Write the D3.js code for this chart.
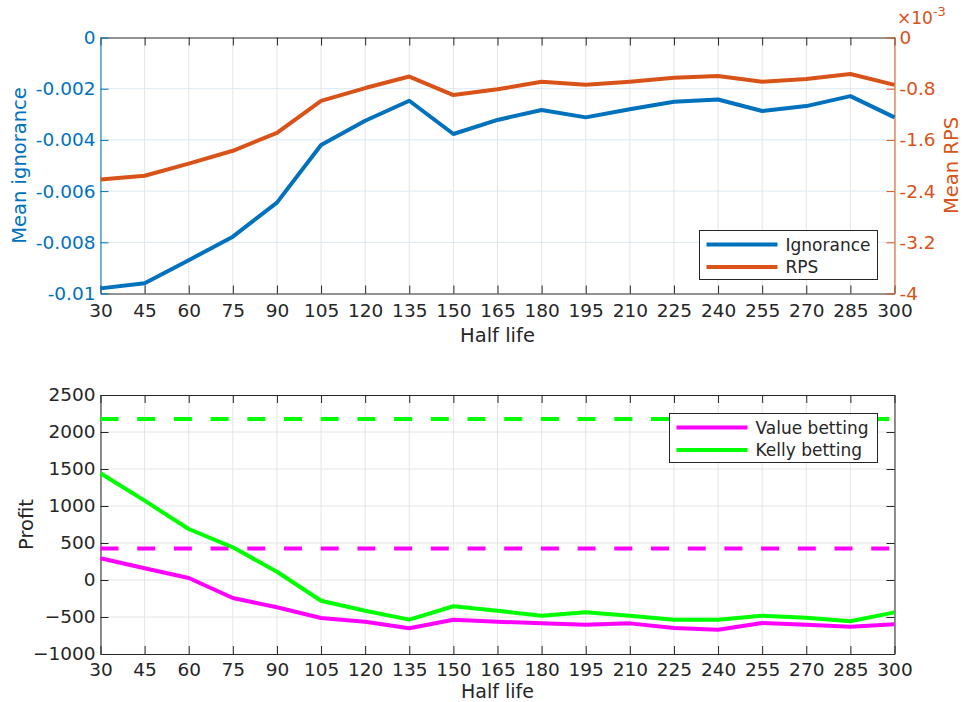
<!DOCTYPE html>
<html><head><meta charset="utf-8">
<script src="https://cdn.jsdelivr.net/npm/d3@7"></script>
<style>body{margin:0;background:#fff}svg{display:block}text{font-family:"DejaVu Sans",sans-serif}</style>
</head><body><svg id="c" width="963" height="702"></svg>
<script>
const halfLife = [30,45,60,75,90,105,120,135,150,165,180,195,210,225,240,255,270,285,300];
const ignorance = [-0.0098,-0.0096,-0.0087,-0.00778,-0.00645,-0.0042,-0.00325,-0.00247,-0.00377,-0.00322,-0.00283,-0.00312,-0.0028,-0.00251,-0.00242,-0.00287,-0.00268,-0.00229,-0.00312];
const rps = [-2.22,-2.16,-1.97,-1.77,-1.49,-0.99,-0.79,-0.61,-0.90,-0.81,-0.69,-0.74,-0.69,-0.63,-0.60,-0.69,-0.65,-0.57,-0.74]; // x10^-3
const valueBetting = [293,158,27,-243,-369,-514,-563,-653,-536,-563,-586,-604,-586,-649,-671,-581,-604,-631,-599];
const kellyBetting = [1442,1072,689,442,112,-280,-415,-536,-355,-415,-482,-437,-482,-536,-536,-482,-509,-558,-437];
const valueBaseline = 427;
const kellyBaseline = 2176;
const ignTicks = [0,-0.002,-0.004,-0.006,-0.008,-0.01];
const ignTickLabels = ["0","-0.002","-0.004","-0.006","-0.008","-0.01"];
const rpsTicks = [0,-0.8,-1.6,-2.4,-3.2,-4];
const profitTicks = [2500,2000,1500,1000,500,0,-500,-1000];

const BLUE="#0072BD", ORANGE="#D95319", MAG="#FF00FF", GRN="#00FF00", DARK="#262626";
const svg = d3.select("#c");
const L=100.5, R=894.5;
const x = d3.scaleLinear().domain([30,300]).range([L,R]);
const FS=18.5;

function xAxes(g, top, bot, labelDy, pad, labelFs){
  g.append("g").selectAll("line").data(halfLife).join("line")
    .attr("x1",d=>x(d)).attr("x2",d=>x(d)).attr("y1",top).attr("y2",bot)
    .attr("stroke","#e4e4e4").attr("stroke-width",1);
  const ax = g.append("g").attr("transform",`translate(0,${bot})`)
    .call(d3.axisBottom(x).tickValues(halfLife).tickFormat(d3.format("d")).tickSizeInner(-8).tickSizeOuter(0).tickPadding(pad));
  ax.select(".domain").attr("stroke",DARK);
  ax.selectAll(".tick line").attr("stroke",DARK);
  ax.selectAll("text").attr("fill",DARK).style("font-size",FS+"px").style("font-family","DejaVu Sans");
  const axt = g.append("g").attr("transform",`translate(0,${top})`)
    .call(d3.axisTop(x).tickValues(halfLife).tickFormat("").tickSizeInner(-8).tickSizeOuter(0));
  axt.select(".domain").attr("stroke",DARK);
  axt.selectAll(".tick line").attr("stroke",DARK);
  g.append("text").attr("x",(L+R)/2).attr("y",bot+labelDy).attr("text-anchor","middle")
    .attr("fill",DARK).style("font-size",labelFs+"px").text("Half life");
}

// ---------- Top chart ----------
const T1=37.5, B1=293.5;
const g1 = svg.append("g");
const yI = d3.scaleLinear().domain([-0.01,0]).range([B1,T1]);
const yR = d3.scaleLinear().domain([-4,0]).range([B1,T1]);
g1.append("g").selectAll("line").data(ignTicks.slice(1,-1)).join("line")
  .attr("x1",L).attr("x2",R).attr("y1",d=>yI(d)).attr("y2",d=>yI(d))
  .attr("stroke","#d9e9f5").attr("stroke-width",1);
xAxes(g1,T1,B1,48,10,19.5);
const ayl = g1.append("g").attr("transform",`translate(${L},0)`)
  .call(d3.axisLeft(yI).tickValues(ignTicks).tickFormat((d,i)=>ignTickLabels[i]).tickSizeInner(-8).tickSizeOuter(0).tickPadding(5));
ayl.select(".domain").attr("stroke",BLUE);
ayl.selectAll(".tick line").attr("stroke",BLUE);
ayl.selectAll("text").attr("fill",BLUE).style("font-size",FS+"px");
const ayr = g1.append("g").attr("transform",`translate(${R},0)`)
  .call(d3.axisRight(yR).tickValues(rpsTicks).tickFormat(d=>d===0?"0":String(d)).tickSizeInner(-8).tickSizeOuter(0).tickPadding(5));
ayr.select(".domain").attr("stroke",ORANGE);
ayr.selectAll(".tick line").attr("stroke",ORANGE);
ayr.selectAll("text").attr("fill",ORANGE).style("font-size",FS+"px");
const ex = g1.append("text").attr("x",897).attr("y",24).attr("fill",ORANGE).style("font-size","17px");
ex.append("tspan").text("×10");
ex.append("tspan").attr("dy",-8).style("font-size","13px").text("-3");

g1.append("path").datum(ignorance).attr("d",d3.line().x((d,i)=>x(halfLife[i])).y(d=>yI(d))).attr("fill","none").attr("stroke",BLUE).attr("stroke-width",4).attr("stroke-linejoin","round");
g1.append("path").datum(rps).attr("d",d3.line().x((d,i)=>x(halfLife[i])).y(d=>yR(d))).attr("fill","none").attr("stroke",ORANGE).attr("stroke-width",4).attr("stroke-linejoin","round");

g1.append("text").attr("transform",`translate(26,${(T1+B1)/2}) rotate(-90)`).attr("text-anchor","middle")
  .attr("fill",BLUE).style("font-size","19.5px").text("Mean ignorance");
g1.append("text").attr("transform",`translate(958,${(T1+B1)/2}) rotate(-90)`).attr("text-anchor","middle")
  .attr("fill",ORANGE).style("font-size","19.5px").text("Mean RPS");

function legend(g, x0, y0, w, h, items){
  g.append("rect").attr("x",x0).attr("y",y0).attr("width",w).attr("height",h).attr("fill","#fff").attr("stroke",DARK).attr("stroke-width",1);
  items.forEach((it,i)=>{
    const yy = y0+14+i*22.5;
    g.append("line").attr("x1",x0+7).attr("x2",x0+78).attr("y1",yy).attr("y2",yy).attr("stroke",it.c).attr("stroke-width",4);
    g.append("text").attr("x",x0+86).attr("y",yy+6).attr("fill",DARK).style("font-size","17px").text(it.t);
  });
}
legend(g1, 699.5, 230.5, 178, 49, [{t:"Ignorance",c:BLUE},{t:"RPS",c:ORANGE}]);

// ---------- Bottom chart ----------
const T2=395, B2=654;
const g2 = svg.append("g");
const yP = d3.scaleLinear().domain([-1000,2500]).range([B2,T2]);
g2.append("g").selectAll("line").data(profitTicks.slice(1,-1)).join("line")
  .attr("x1",L).attr("x2",R).attr("y1",d=>yP(d)).attr("y2",d=>yP(d))
  .attr("stroke","#e4e4e4").attr("stroke-width",1);
xAxes(g2,T2,B2,43.5,9,19);
const ayp = g2.append("g").attr("transform",`translate(${L},0)`)
  .call(d3.axisLeft(yP).tickValues(profitTicks).tickFormat(d3.format("d")).tickSizeInner(-8).tickSizeOuter(0).tickPadding(5));
ayp.select(".domain").attr("stroke",DARK);
ayp.selectAll(".tick line").attr("stroke",DARK);
ayp.selectAll("text").attr("fill",DARK).style("font-size",FS+"px");
const ayp2 = g2.append("g").attr("transform",`translate(${R},0)`)
  .call(d3.axisRight(yP).tickValues(profitTicks).tickFormat("").tickSizeInner(-8).tickSizeOuter(0));
ayp2.select(".domain").attr("stroke",DARK);
ayp2.selectAll(".tick line").attr("stroke",DARK);

g2.append("line").attr("x1",L).attr("x2",R).attr("y1",yP(kellyBaseline)).attr("y2",yP(kellyBaseline))
  .attr("stroke",GRN).attr("stroke-width",4).attr("stroke-dasharray","18,18.7");
g2.append("line").attr("x1",L).attr("x2",R).attr("y1",yP(valueBaseline)).attr("y2",yP(valueBaseline))
  .attr("stroke",MAG).attr("stroke-width",4).attr("stroke-dasharray","18,18.7");
const lineP = d3.line().x((d,i)=>x(halfLife[i])).y(d=>yP(d));
g2.append("path").datum(valueBetting).attr("d",lineP).attr("fill","none").attr("stroke",MAG).attr("stroke-width",4).attr("stroke-linejoin","round");
g2.append("path").datum(kellyBetting).attr("d",lineP).attr("fill","none").attr("stroke",GRN).attr("stroke-width",4).attr("stroke-linejoin","round");
g2.append("text").attr("transform",`translate(33,${(T2+B2)/2}) rotate(-90)`).attr("text-anchor","middle")
  .attr("fill",DARK).style("font-size","19.5px").text("Profit");
legend(g2, 669.5, 413.5, 208, 49, [{t:"Value betting",c:MAG},{t:"Kelly betting",c:GRN}]);
</script></body></html>
